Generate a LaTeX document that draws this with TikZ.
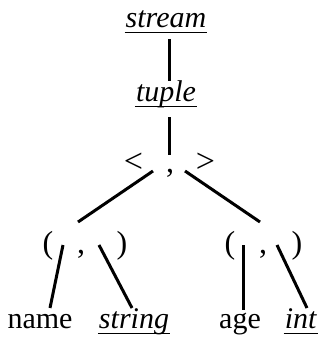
\documentclass[tikz,border=0pt]{standalone}
\usepackage{fontspec}
\setmainfont{Liberation Serif}
\begin{document}
\begin{tikzpicture}[x=1pt,y=-1pt,
  lbl/.style={inner sep=0pt,anchor=base,font=\fontsize{30}{36}\selectfont},
  sym/.style={inner sep=0pt,anchor=base,font=\fontsize{32}{38}\selectfont},
  angle/.style={inner sep=0pt,anchor=base,font=\fontsize{34}{40}\selectfont},
  edge/.style={line width=3pt},
  ul/.style={line width=1.8pt}]
\useasboundingbox (0,0) rectangle (320,338);
% labels
\node[lbl] (stream) at (166,27) {\textit{stream}};
\node[lbl] (tuple) at (166,101) {\textit{tuple}};
\node[angle] (lt) at (133.5,172) {<};
\node[sym] (c0) at (170,172) {,};
\node[angle] (gt) at (205.5,172) {>};
\node[sym] (lpA) at (48,253) {(};
\node[sym] (cA) at (81,253) {,};
\node[sym] (rpA) at (122,253) {)};
\node[sym] (lpB) at (230,253) {(};
\node[sym] (cB) at (263,253) {,};
\node[sym] (rpB) at (297,253) {)};
\node[lbl] (name) at (40,328) {name};
\node[lbl] (string) at (134,328) {\textit{string}};
\node[lbl] (age) at (240,328) {age};
\node[lbl] (int) at (301,328) {\textit{int}};
% underlines
\foreach \n in {stream,tuple,string,int}
  \draw[ul] ([xshift=-1pt,yshift=-5.5pt]\n.base west) -- ([xshift=1pt,yshift=-5.5pt]\n.base east);
% connector end points
\coordinate (s1) at (169,39);  \coordinate (t1) at (169,81);
\coordinate (t2) at (169,117); \coordinate (p0) at (169,155);
\coordinate (pL) at (153,171); \coordinate (aL) at (78,222);
\coordinate (pR) at (185,171); \coordinate (aR) at (260,222);
\coordinate (a1) at (63,245);  \coordinate (n1) at (50,308);
\coordinate (a2) at (99,245);  \coordinate (st1) at (132,308);
\coordinate (b1) at (243,245); \coordinate (ag1) at (243,310);
\coordinate (b2) at (277,245); \coordinate (i1) at (307,308);
% connectors
\draw[edge] (s1) -- (t1);
\draw[edge] (t2) -- (p0);
\draw[edge] (pL) -- (aL);
\draw[edge] (pR) -- (aR);
\draw[edge] (a1) -- (n1);
\draw[edge] (a2) -- (st1);
\draw[edge] (b1) -- (ag1);
\draw[edge] (b2) -- (i1);
\end{tikzpicture}
\end{document}
